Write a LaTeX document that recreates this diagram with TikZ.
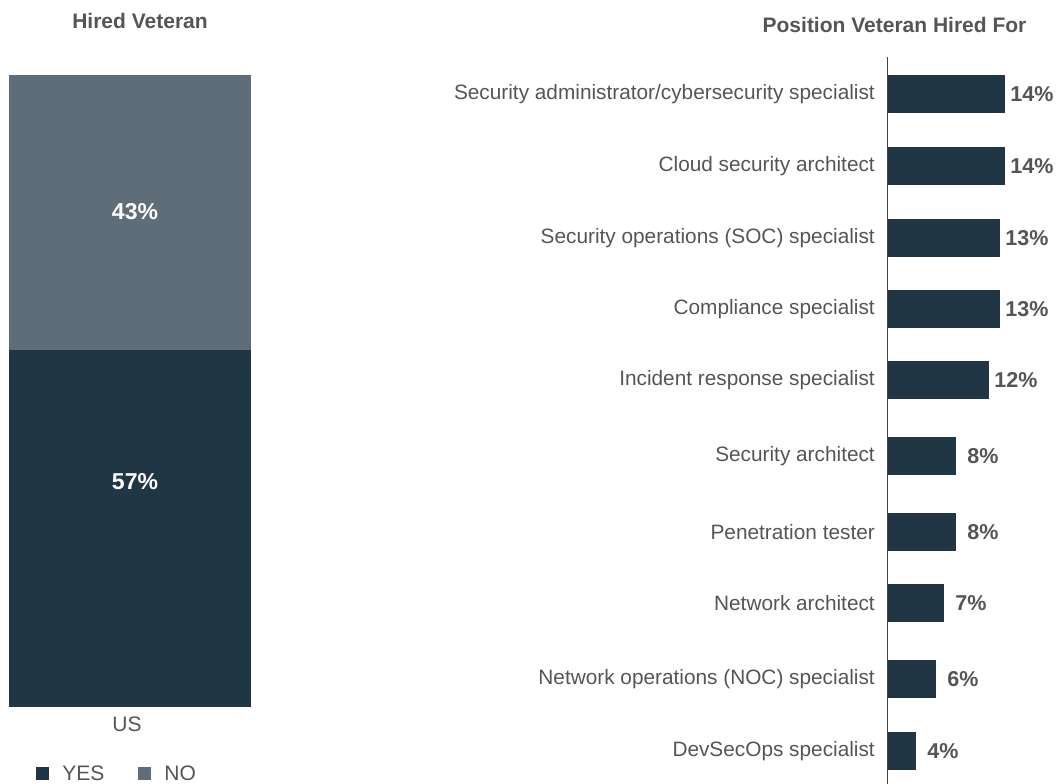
\documentclass[tikz,border=0pt]{standalone}
\usepackage{fontspec}
\setmainfont{Liberation Sans}
\usetikzlibrary{positioning}
\definecolor{navy}{HTML}{213645}
\definecolor{slate}{HTML}{5F6D78}
\definecolor{txtgray}{HTML}{555555}
\definecolor{axisgray}{HTML}{444444}

\begin{document}
\begin{tikzpicture}[x=1pt,y=-1pt,
		title/.style={text=txtgray,font=\fontsize{21}{24}\selectfont\bfseries,inner sep=0},
		catlbl/.style={text=txtgray,font=\fontsize{20.8}{24}\selectfont,anchor=east,inner sep=0},
		pct/.style={text=txtgray,font=\fontsize{21.5}{24}\selectfont\bfseries,inner sep=0},
		inpct/.style={text=white,font=\fontsize{23}{26}\selectfont\bfseries,inner sep=0},
		keytxt/.style={text=txtgray,font=\fontsize{21}{24}\selectfont,inner sep=0},
		keybox/.style={minimum size=13,inner sep=0}]
	\useasboundingbox (0,0) rectangle (1060,784);
	% stacked bar
	\fill[slate] (9,75) rectangle (251,350);
	\fill[navy] (9,350) rectangle (251,707);
	\node[title] (hired) at (140,21) {Hired Veteran};
	\node[inpct] (no) at (135,212) {43\%};
	\node[inpct] (yes) at (135,482) {57\%};
	\node[keytxt] (us) at (127,724) {US};
	% legend
	\node[keybox,fill=navy] (yesbox) at (42.5,773.5) {};
	\node[keytxt,right=13pt of yesbox] (yeskey) {YES};
	\node[keybox,fill=slate] (nobox) at (144.5,773.5) {};
	\node[keytxt,right=13pt of nobox] (nokey) {NO};
	% positions
	\node[title] (position) at (894.5,25) {Position Veteran Hired For};
	\coordinate (axtop) at (887,57);
	\coordinate (axbot) at (887,784);
	\foreach \top/\right/\name/\val [count=\i] in {
			75/1005/{Security administrator/cybersecurity specialist}/14,
			147/1005/{Cloud security architect}/14,
			219/1000/{Security operations (SOC) specialist}/13,
			290/1000/{Compliance specialist}/13,
			361/989/{Incident response specialist}/12,
			437/956/{Security architect}/8,
			513/956/{Penetration tester}/8,
			584/944/{Network architect}/7,
			660/936/{Network operations (NOC) specialist}/6,
			732/916/{DevSecOps specialist}/4} {
		\fill[navy] (887,\top) rectangle (\right,\top+38);
		\node[catlbl] (cat\i) at (875,\top+19) {\name};
		\node[pct] (val\i) at (\right+27,\top+19) {\val\%};
	}
	\draw[axisgray,line width=1pt] (axtop) -- (axbot);
\end{tikzpicture}
\end{document}
